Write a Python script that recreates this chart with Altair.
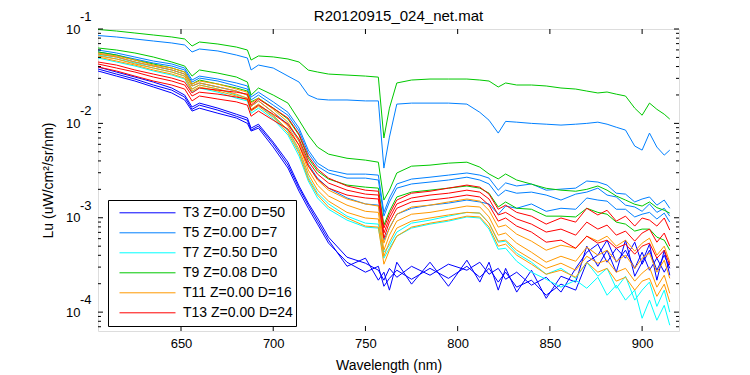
import altair as alt
import pandas as pd

# ---------------- data (Lu values in units of 1e-3 uW/cm^2/sr/nm) ----------------
wavelength = [605, 615, 625, 635, 645, 652, 656, 660, 670, 680, 686, 688, 692, 700, 708,
              714, 719, 724, 730, 740, 750, 757, 760, 763, 767, 775, 785, 795, 805, 812,
              817, 822, 826, 832, 840, 848, 856, 864, 870, 876, 881, 886, 891, 896, 900,
              904, 908, 912, 915]

t3_a = [39.6, 35.0, 31.0, 27.4, 23.7, 19.95, 14.9, 16.4, 14.5, 12.5, 11.4, 8.91, 9.8, 6.33, 3.88,
        2.17, 1.43, 0.994, 0.622, 0.382, 0.330, 0.278, 0.218, 0.291, 0.234, 0.306, 0.246, 0.322, 0.278, 0.338,
        0.252, 0.291, 0.223, 0.265, 0.193, 0.234, 0.163, 0.291, 0.431, 0.525, 0.338, 0.475, 0.373, 0.551, 0.322,
        0.453, 0.278, 0.401, 0.291]
t3_b = [35.9, 31.7, 28.1, 24.3, 21.0, 17.7, 13.5, 14.5, 12.8, 11.4, 10.0, 8.29, 8.91, 5.61, 3.36,
        1.91, 1.26, 0.856, 0.538, 0.338, 0.265, 0.306, 0.188, 0.228, 0.278, 0.223, 0.291, 0.228, 0.306, 0.234,
        0.291, 0.208, 0.265, 0.184, 0.218, 0.151, 0.198, 0.171, 0.338, 0.401, 0.579, 0.338, 0.453, 0.291, 0.431,
        0.278, 0.373, 0.265, 0.338]
t3_c = [37.7, 33.3, 29.5, 25.5, 22.5, 19.0, 14.1, 15.6, 13.8, 11.9, 10.8, 8.49, 9.36, 6.03, 3.61,
        2.06, 1.36, 0.921, 0.579, 0.306, 0.373, 0.218, 0.265, 0.171, 0.338, 0.198, 0.338, 0.188, 0.355, 0.208,
        0.338, 0.171, 0.291, 0.163, 0.278, 0.140, 0.240, 0.208, 0.500, 0.306, 0.453, 0.265, 0.579, 0.240, 0.338,
        0.525, 0.218, 0.453, 0.246]

t5_a = [85.3, 82.3, 78.4, 74.6, 71.1, 67.7, 57.1, 61.4, 58.5, 53.0, 49.3, 36.8, 41.5, 38.6, 31.7,
        27.4, 19.95, 18.1, 17.7, 17.7, 17.3, 17.3, 3.36, 7.15, 16.0, 16.4, 16.4, 16.4, 16.0, 13.1,
        10.8, 7.89, 10.5, 10.3, 10.0, 9.8, 9.59, 9.8, 10.0, 10.3, 9.8, 9.1, 8.49, 5.75, 5.21,
        7.89, 5.61, 4.61, 5.21]
t5_b = [59.9, 55.7, 50.5, 45.8, 42.6, 38.6, 28.8, 31.7, 29.5, 26.8, 24.9, 19.0, 21.4, 16.9, 13.1,
        8.92, 5.21, 3.79, 3.20, 2.90, 2.90, 2.83, 1.14, 1.62, 2.28, 2.57, 2.69, 2.83, 2.98, 2.83,
        2.63, 1.96, 2.34, 2.17, 2.28, 1.96, 2.01, 2.06, 2.45, 2.39, 2.22, 1.82, 1.78, 1.47, 1.58,
        1.66, 1.36, 1.54, 1.26]
t5_c = [57.1, 53.0, 48.1, 43.6, 40.5, 36.8, 27.4, 30.2, 28.1, 24.9, 23.1, 17.7, 19.95, 15.6, 12.2,
        8.29, 4.84, 3.52, 2.97, 2.63, 2.63, 2.51, 1.04, 1.47, 2.06, 2.28, 2.39, 2.51, 2.69, 2.51,
        2.28, 1.70, 1.96, 1.82, 1.87, 1.74, 1.54, 1.78, 1.87, 2.06, 1.74, 1.66, 1.36, 1.30, 1.17,
        1.40, 1.14, 1.26, 1.04]
t5_d = [54.3, 50.5, 44.7, 40.5, 36.8, 33.3, 24.9, 26.8, 24.3, 22.0, 19.95, 15.2, 17.3, 13.1, 9.8,
        6.49, 3.70, 2.63, 2.06, 1.62, 1.40, 1.36, 0.579, 0.777, 1.09, 1.26, 1.36, 1.43, 1.54, 1.47,
        1.40, 1.09, 1.33, 1.26, 1.40, 1.17, 1.26, 1.23, 1.62, 1.54, 1.50, 1.23, 1.23, 1.02, 1.09,
        1.14, 0.97, 1.12, 0.899]

t7_a = [53.0, 48.1, 43.6, 38.6, 35.0, 31.7, 23.1, 25.5, 23.1, 19.95, 18.5, 13.8, 15.6, 11.9, 8.29,
        5.08, 2.69, 1.82, 1.40, 1.04, 0.877, 0.856, 0.431, 0.512, 0.705, 0.877, 0.944, 1.04, 1.14, 1.12,
        0.877, 0.551, 0.565, 0.421, 0.338, 0.252, 0.291, 0.228, 0.338, 0.240, 0.291, 0.179, 0.240, 0.134, 0.171,
        0.208, 0.115, 0.171, 0.100]
t7_b = [49.3, 44.7, 40.5, 35.9, 32.5, 29.5, 21.4, 23.7, 21.4, 18.5, 17.3, 12.8, 14.5, 11.1, 7.51,
        4.50, 2.45, 1.62, 1.23, 0.944, 0.796, 0.777, 0.373, 0.475, 0.638, 0.777, 0.856, 0.921, 1.02, 0.994,
        0.758, 0.464, 0.475, 0.346, 0.265, 0.223, 0.184, 0.218, 0.179, 0.234, 0.151, 0.193, 0.134, 0.171, 0.0861,
        0.134, 0.082, 0.118, 0.0726]

t9_a = [98.8, 95.2, 90.7, 86.4, 82.3, 78.4, 66.0, 72.8, 69.3, 64.4, 59.9, 46.9, 51.8, 50.6, 48.1,
        44.7, 36.7, 35.0, 33.3, 32.5, 31.7, 30.9, 7.0, 14.5, 26.8, 28.8, 29.5, 29.5, 29.5, 28.8,
        28.1, 24.3, 26.8, 25.5, 25.5, 24.9, 23.7, 23.1, 22.0, 21.0, 21.5, 20.4, 19.5, 14.5, 12.2,
        16.4, 14.1, 12.5, 11.1]
t9_b = [62.9, 59.9, 55.7, 50.5, 44.7, 40.5, 31.7, 36.8, 34.1, 31.0, 27.4, 19.95, 23.7, 19.95, 16.4,
        10.8, 7.51, 5.61, 4.72, 4.27, 4.08, 3.88, 1.54, 1.96, 2.98, 3.52, 3.61, 3.79, 3.88, 3.44,
        2.91, 2.58, 2.91, 2.51, 2.27, 2.05, 1.96, 1.91, 2.00, 2.17, 1.96, 1.70, 1.54, 1.39, 1.33,
        1.47, 1.28, 1.20, 1.12]
t9_c = [57.1, 53.0, 46.9, 42.6, 38.6, 35.0, 26.1, 28.8, 26.1, 23.7, 22.0, 16.9, 18.5, 14.5, 11.1,
        7.51, 4.27, 3.12, 2.57, 2.22, 2.11, 2.06, 0.836, 1.17, 1.66, 1.87, 1.96, 2.06, 2.17, 2.06,
        1.82, 1.30, 1.47, 1.26, 1.23, 1.04, 1.04, 1.02, 1.26, 1.14, 1.09, 0.899, 0.856, 0.722, 0.758,
        0.758, 0.623, 0.579, 0.453]

t11_a = [55.6, 51.8, 46.9, 41.5, 38.6, 35.0, 26.1, 28.1, 26.1, 23.1, 21.4, 16.4, 18.5, 14.1, 10.3,
         6.49, 3.61, 2.51, 1.96, 1.58, 1.40, 1.33, 0.538, 0.777, 1.09, 1.30, 1.36, 1.47, 1.58, 1.50,
         1.20, 0.796, 0.836, 0.670, 0.565, 0.453, 0.512, 0.475, 0.638, 0.565, 0.638, 0.500, 0.579, 0.442, 0.538,
         0.608, 0.401, 0.500, 0.338]
t11_b = [54.3, 50.5, 44.7, 40.5, 36.8, 33.3, 24.9, 26.8, 24.3, 22.0, 19.95, 15.2, 17.3, 13.1, 9.36,
         5.89, 3.20, 2.22, 1.70, 1.36, 1.17, 1.14, 0.453, 0.654, 0.921, 1.09, 1.14, 1.23, 1.33, 1.30,
         1.02, 0.654, 0.688, 0.538, 0.431, 0.338, 0.391, 0.346, 0.488, 0.401, 0.453, 0.346, 0.401, 0.291, 0.373,
         0.421, 0.265, 0.355, 0.228]
t11_c = [51.8, 48.1, 42.6, 38.6, 35.0, 31.7, 23.1, 25.5, 23.1, 20.4, 18.5, 14.1, 16.0, 12.2, 8.49,
         5.34, 2.90, 1.96, 1.50, 1.14, 0.994, 0.970, 0.391, 0.551, 0.777, 0.921, 0.994, 1.07, 1.14, 1.12,
         0.877, 0.565, 0.579, 0.453, 0.364, 0.291, 0.330, 0.278, 0.391, 0.330, 0.355, 0.265, 0.291, 0.213, 0.259,
         0.299, 0.184, 0.246, 0.158]
t11_d = [50.5, 45.8, 41.5, 36.8, 33.3, 30.2, 22.0, 24.3, 22.0, 19.5, 17.7, 13.5, 15.2, 11.6, 7.89,
         4.84, 2.57, 1.74, 1.30, 0.994, 0.816, 0.796, 0.322, 0.453, 0.638, 0.796, 0.877, 0.944, 1.04, 1.02,
         0.796, 0.500, 0.525, 0.401, 0.322, 0.252, 0.278, 0.234, 0.338, 0.265, 0.291, 0.213, 0.234, 0.171, 0.213,
         0.228, 0.147, 0.198, 0.128]

t13_a = [44.7, 41.5, 36.8, 33.3, 30.2, 27.4, 21.0, 23.7, 22.5, 21.4, 20.4, 15.6, 18.1, 14.5, 11.4,
         7.7, 4.50, 3.28, 2.63, 2.17, 1.96, 1.91, 0.777, 1.09, 1.54, 1.82, 1.91, 2.06, 2.22, 2.11,
         1.78, 1.23, 1.36, 1.14, 1.04, 0.856, 0.994, 0.899, 1.26, 1.07, 1.20, 0.921, 1.04, 0.816, 0.994,
         0.944, 0.816, 0.994, 0.740]
t13_b = [42.6, 38.6, 35.0, 31.0, 28.1, 25.5, 19.5, 21.4, 20.4, 19.0, 18.1, 13.8, 15.6, 12.5, 9.8,
         6.82, 3.98, 2.90, 2.33, 1.96, 1.78, 1.74, 0.688, 0.994, 1.40, 1.62, 1.74, 1.82, 1.96, 1.87,
         1.58, 1.07, 1.14, 0.970, 0.856, 0.705, 0.758, 0.654, 0.899, 0.758, 0.836, 0.654, 0.722, 0.565, 0.688,
         0.758, 0.551, 0.688, 0.500]
t13_c = [39.6, 35.9, 31.7, 28.1, 25.5, 23.1, 17.3, 19.5, 18.1, 16.9, 15.6, 11.9, 13.5, 10.8, 8.7,
         5.89, 3.52, 2.57, 2.06, 1.74, 1.62, 1.58, 0.608, 0.899, 1.26, 1.47, 1.54, 1.62, 1.74, 1.66,
         1.36, 0.921, 0.994, 0.816, 0.705, 0.551, 0.579, 0.475, 0.638, 0.538, 0.579, 0.475, 0.525, 0.411, 0.500,
         0.538, 0.373, 0.453, 0.314]

groups = ["T3 Z=0.00 D=50", "T5 Z=0.00 D=7", "T7 Z=0.50 D=0",
          "T9 Z=0.08 D=0", "T11 Z=0.00 D=16", "T13 Z=0.00 D=24"]
colors = ["#0000ff", "#0080ff", "#00ffff", "#00c800", "#ff9900", "#ff0000"]

series = [
    (groups[0], "t3a", t3_a), (groups[0], "t3b", t3_b), (groups[0], "t3c", t3_c),
    (groups[1], "t5a", t5_a), (groups[1], "t5b", t5_b), (groups[1], "t5c", t5_c), (groups[1], "t5d", t5_d),
    (groups[2], "t7a", t7_a), (groups[2], "t7b", t7_b),
    (groups[3], "t9a", t9_a), (groups[3], "t9b", t9_b), (groups[3], "t9c", t9_c),
    (groups[4], "t11a", t11_a), (groups[4], "t11b", t11_b), (groups[4], "t11c", t11_c), (groups[4], "t11d", t11_d),
    (groups[5], "t13a", t13_a), (groups[5], "t13b", t13_b), (groups[5], "t13c", t13_c),
]

major_y = [1e-4, 1e-3, 1e-2, 1e-1]
exponents = ["-4", "-3", "-2", "-1"]
minor_y = [7e-5, 8e-5, 9e-5,
           2e-4, 3e-4, 4e-4, 5e-4, 6e-4, 7e-4, 8e-4, 9e-4,
           2e-3, 3e-3, 4e-3, 5e-3, 6e-3, 7e-3, 8e-3, 9e-3,
           2e-2, 3e-2, 4e-2, 5e-2, 6e-2, 7e-2, 8e-2, 9e-2]
x_ticks = [650, 700, 750, 800, 850, 900]

# ---------------- build tables ----------------
rows = []
for grp, name, vals in series:
    for w, v in zip(wavelength, vals):
        rows.append({"wavelength": w, "lu": v * 1e-3, "group": grp, "line": name})
lines_df = pd.DataFrame(rows)

FONT = "Liberation Sans"
W, H = 581, 302
xscale = alt.Scale(domain=[605, 920], nice=False, zero=False)
yscale = alt.Scale(type="log", domain=[10 ** -4.2, 0.1], nice=False)

x_axis = alt.Axis(values=x_ticks, format="d", ticks=False, tickSize=0, domain=False, grid=False,
                  labelPadding=6, labelFontSize=13, labelFont=FONT, labelColor="black",
                  labelFlush=False, title="Wavelength (nm)", titleFont=FONT, titleFontSize=14,
                  titleFontWeight="normal", titleColor="black", titlePadding=8)
y_axis = alt.Axis(values=major_y, labelExpr="'10'", ticks=False, tickSize=0, domain=False, grid=False,
                  labelPadding=18, labelFontSize=13, labelFont=FONT, labelColor="black",
                  labelFlush=False, labelOverlap=False,
                  title="Lu (uW/cm²/sr/nm)", titleFont=FONT, titleFontSize=14,
                  titleFontWeight="normal", titleColor="black", titlePadding=10)

X = lambda: alt.X("wavelength:Q", scale=xscale, axis=x_axis)
Y = lambda: alt.Y("lu:Q", scale=yscale, axis=y_axis)

lines = alt.Chart(lines_df).mark_line(strokeWidth=1, clip=True).encode(
    x=X(), y=Y(),
    color=alt.Color("group:N", scale=alt.Scale(domain=groups, range=colors),
                    legend=alt.Legend(title=None, orient="none", direction="vertical",
                                      legendX=10, legendY=171, symbolType="stroke", symbolSize=3136,
                                      symbolStrokeWidth=1, clipHeight=19.6, rowPadding=0, padding=3,
                                      strokeColor="black", fillColor="white", labelFont=FONT,
                                      labelFontSize=14, labelColor="black", labelOffset=7,
                                      symbolOffset=8, cornerRadius=0, labelLimit=400)),
    detail="line:N",
)

major_df = pd.DataFrame({"lu": major_y, "exp": exponents})
minor_df = pd.DataFrame({"lu": minor_y})
xt_df = pd.DataFrame({"wavelength": x_ticks})


def ytick(df, x0, x1):
    return alt.Chart(df).mark_rule(color="black", strokeWidth=1).encode(
        y=Y(), x=alt.value(x0), x2=alt.value(x1))


def xtick(y0, y1):
    return alt.Chart(xt_df).mark_rule(color="black", strokeWidth=1).encode(
        x=X(), y=alt.value(y0), y2=alt.value(y1))


exp_text = alt.Chart(major_df).mark_text(align="left", baseline="middle", dy=-12, fontSize=13,
                                         font=FONT, color="black").encode(
    y=Y(), x=alt.value(-18), text="exp:N")

chart = alt.layer(
    lines,
    ytick(major_df, 0, 5), ytick(minor_df, 0, 3),
    ytick(major_df, W, W - 5), ytick(minor_df, W, W - 3),
    xtick(H, H - 5), xtick(0, 5),
    exp_text,
).properties(
    width=W, height=H,
    title=alt.TitleParams("R20120915_024_net.mat", fontSize=15, fontWeight="normal", font=FONT,
                          color="black", anchor="middle", frame="group", dx=10, dy=13, offset=0),
    padding={"left": 90, "top": 21, "right": 60, "bottom": 45},
    autosize=alt.AutoSizeParams(type="none"),
).configure_view(stroke="black", strokeWidth=1).configure(background="white")

chart.save("out.html", embed_options={"renderer": "svg", "actions": False})
